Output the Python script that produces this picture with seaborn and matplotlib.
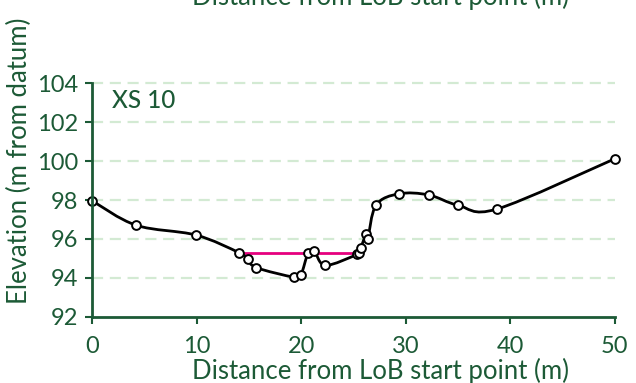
import numpy as np
import matplotlib
matplotlib.use("Agg")
import matplotlib.pyplot as plt
from matplotlib.path import Path
from matplotlib.patches import PathPatch
import seaborn as sns
import pandas as pd

# Cross-section survey: chainage along the line of bank (m) and bed elevation (m)
distance = [0.0, 4.2, 9.9, 14.0, 14.85, 15.7, 19.3, 19.95, 20.65, 21.25, 22.3,
            25.35, 25.55, 25.7, 26.2, 26.35, 27.15, 29.35, 32.2, 35.0, 38.75, 50.0]
elevation = [97.95, 96.7, 96.2, 95.3, 94.95, 94.52, 94.03, 94.14, 95.28, 95.36, 94.64,
             95.2, 95.3, 95.55, 96.25, 96.0, 97.74, 98.32, 98.26, 97.73, 97.54, 100.12]

# Water surface across the channel
water_x = [14.0, 25.35]
water_level = 95.3

section_name = "XS 10"
x_ticks = [0, 10, 20, 30, 40, 50]
y_ticks = [92, 94, 96, 98, 100, 102, 104]
x_label = "Distance from LoB start point (m)"
y_label = "Elevation (m from datum)"

GREEN = "#1c5a36"
GRID = "#d3ead3"
MAGENTA = "#e6007e"

sns.set_theme(style="white")
plt.rcParams["font.family"] = ["Lato", "DejaVu Sans"]

fig = plt.figure(figsize=(6.36, 3.83), dpi=100)
ax = fig.add_axes([0.1453, 0.1731, 0.8214, 0.6094])

df = pd.DataFrame({"distance": distance, "elevation": elevation})


def smooth_path(xs, ys):
    """Bezier path through every point (Catmull-Rom style tangents)."""
    pts = np.column_stack([xs, ys])
    n = len(pts)
    verts = [pts[0]]
    codes = [Path.MOVETO]
    for i in range(n - 1):
        p0 = pts[i - 1] if i > 0 else pts[i]
        p1 = pts[i]
        p2 = pts[i + 1]
        p3 = pts[i + 2] if i + 2 < n else pts[i + 1]
        c1 = p1 + (p2 - p0) / 6.0
        c2 = p2 - (p3 - p1) / 6.0
        verts += [c1, c2, p2]
        codes += [Path.CURVE4] * 3
    return Path(verts, codes)


# water line
wl = pd.DataFrame({"x": water_x, "y": [water_level] * len(water_x)})
sns.lineplot(data=wl, x="x", y="y", color=MAGENTA, linewidth=2, ax=ax, zorder=3)

# smoothed bed profile
ax.add_patch(PathPatch(smooth_path(distance, elevation), facecolor="none",
                       edgecolor="black", linewidth=2, zorder=4))

sns.scatterplot(data=df, x="distance", y="elevation", marker="o", s=40,
                facecolor="white", edgecolor="black", linewidth=1.4,
                ax=ax, zorder=5, clip_on=False)

ax.set_xlim(0, 50)
ax.set_ylim(92, 104)
ax.set_xticks(x_ticks)
ax.set_yticks(y_ticks)
ax.set_xlabel("")
ax.set_ylabel("")

for y in y_ticks[1:]:
    ax.plot([0, 50], [y, y], color=GRID, linewidth=1.6,
            dashes=(5, 3), zorder=1, clip_on=False)

for side in ["top", "right"]:
    ax.spines[side].set_visible(False)
for side in ["left", "bottom"]:
    ax.spines[side].set_color(GREEN)
    ax.spines[side].set_linewidth(2)
    ax.spines[side].set_zorder(6)

ax.tick_params(axis="both", which="both", direction="out", color=GREEN,
               labelcolor=GREEN, labelsize=17, width=1.5, length=5)
ax.tick_params(axis="x", pad=9, bottom=True)
ax.tick_params(axis="y", pad=5, left=True)

ax.text(1.85, 103.1, section_name, color=GREEN, fontsize=17.5,
        fontweight="medium", ha="left", va="center")

fig.text(380 / 636, 1 - 379 / 383, x_label, color=GREEN, fontsize=18.5,
         ha="center", va="baseline")
fig.text(380 / 636, 1 - 5 / 383, x_label, color=GREEN, fontsize=18.5,
         ha="center", va="baseline")
fig.text(19 / 636, 1 - 161 / 383, y_label, color=GREEN, fontsize=18.5,
         rotation=90, ha="center", va="center")

fig.savefig("out.png", dpi=100)
